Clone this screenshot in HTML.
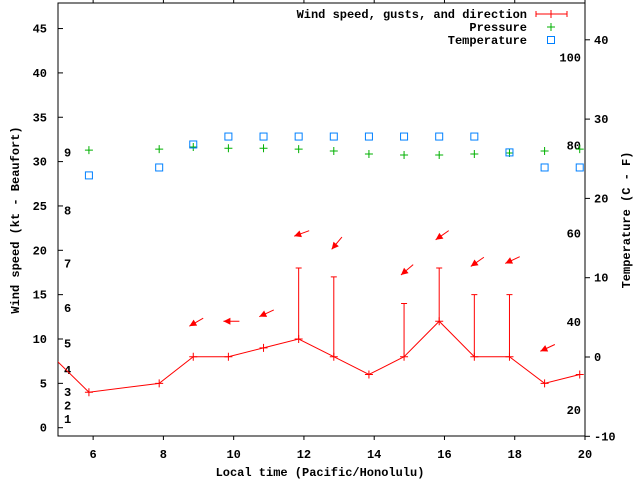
<!DOCTYPE html>
<html><head><meta charset="utf-8"><style>
html,body{margin:0;padding:0;background:#fff}
svg{display:block}
text{font-family:"Liberation Mono",monospace;font-weight:bold;font-size:12px;fill:#000}
</style></head><body>
<svg id="c" width="640" height="480" xmlns="http://www.w3.org/2000/svg"></svg>
<script>
const times=[4.85,5.88,7.88,8.85,9.85,10.85,11.85,12.85,13.85,14.85,15.85,16.85,17.85,18.85,19.85];
const windSpeed=[8,4,5,8,8,9,10,8,6,8,12,8,8,5,6];
const gustTimes=[11.85,12.85,14.85,15.85,16.85,17.85];
const gustSpeed=[18,17,14,18,15,15];
const gustBase=[10,8,8,12,8,8];
const pressTimes=[5.88,7.88,8.85,9.85,10.85,11.85,12.85,13.85,14.85,15.85,16.85,17.85,18.85,19.85];
const pressure=[31.3,31.4,31.65,31.5,31.5,31.4,31.2,30.85,30.75,30.75,30.85,30.97,31.2,31.4];
const tempTimes=[5.88,7.88,8.85,9.85,10.85,11.85,12.85,13.85,14.85,15.85,16.85,17.85,18.85,19.85];
const tempC=[22.9,23.9,26.8,27.8,27.8,27.8,27.8,27.8,27.8,27.8,27.8,25.8,23.9,23.9];
const arrowTimes=[8.85,9.85,10.85,11.85,12.85,14.85,15.85,16.85,17.85,18.85];
const arrowLevel=[11.9,12.0,12.9,21.9,20.8,17.8,21.7,18.7,18.9,9.0];
const arrowDir=[60,90,65,70,40,50,55,55,65,65];
const xTicks=[6,8,10,12,14,16,18,20];
const yTicks=[0,5,10,15,20,25,30,35,40,45];
const cTicks=[-10,0,10,20,30,40];
const fTicks=[20,40,60,80,100];
const bftTicks=[1,2,3,4,5,6,7,8,9];
const bftPos=[1,2.5,4,6.5,9.5,13.5,18.5,24.5,31];

const L=58,R=585,T=3,B=436;
const X=t=>L+(t-5)*(R-L)/15;
const Y=v=>427.7-8.87*v;
const YC=c=>357-7.93*c;
const YF=f=>YC((f-32)*5/9);
const svg=document.getElementById('c');
const NS='http://www.w3.org/2000/svg';
function mk(tag,a,name,par){const e=document.createElementNS(NS,tag);for(const k in a)e.setAttribute(k,a[k]);


(par||svg).appendChild(e);return e;}
function txt(s,x,y,anchor,name,extra){const e=mk('text',Object.assign({x:x,y:y,'text-anchor':anchor||'start'},extra||{}),name);e.textContent=s;return e;}

// frame
mk('rect',{x:L,y:T,width:R-L,height:B-T,fill:'none',stroke:'#000','stroke-width':1},'plot-frame');
// x ticks
xTicks.forEach(t=>{const x=X(t);
 mk('line',{x1:x,y1:B,x2:x,y2:B+4,stroke:'#000'},'x-tick');
 mk('line',{x1:x,y1:T,x2:x,y2:T-4,stroke:'#000'},'x-tick-top');
 txt(String(t),x,458,'middle','x-tick-label');});
yTicks.forEach(v=>{const y=Y(v);
 mk('line',{x1:L,y1:y,x2:L+5,y2:y,stroke:'#000'},'y-tick');
 txt(String(v),47,y+4,'end','y-tick-label');});
cTicks.forEach(v=>{const y=YC(v);
 mk('line',{x1:R,y1:y,x2:R+5,y2:y,stroke:'#000'},'y2-tick');
 txt(String(v),594,y+4,'start','y2-tick-label');});
fTicks.forEach(v=>{txt(String(v),581,YF(v)+4,'end','fahrenheit-label');});
bftTicks.forEach((b,i)=>{txt(String(b),64,Y(bftPos[i])+4,'start','beaufort-label');});

txt('Local time (Pacific/Honolulu)',320,476,'middle','x-axis-title');
txt('Wind speed (kt - Beaufort)',0,0,'middle','y-axis-title',{transform:'translate(19,220) rotate(-90)'});
txt('Temperature (C - F)',0,0,'middle','y2-axis-title',{transform:'translate(630,220) rotate(-90)'});

const red='#ff0000',green='#00b000',blue='#0080ff';
// wind line
let d='';times.forEach((t,i)=>{d+=(i?'L':'M')+X(t)+' '+Y(windSpeed[i]);});
const clip=mk('clipPath',{id:'pc'},'plot-clip');mk('rect',{x:L,y:T,width:R-L,height:B-T},'clip-rect',clip);
mk('path',{d:d,fill:'none',stroke:red,'stroke-width':1,'clip-path':'url(#pc)'},'wind-line');
times.forEach((t,i)=>{if(t<5)return;const x=X(t),y=Y(windSpeed[i]);
 mk('path',{d:`M${x-4} ${y}H${x+4}M${x} ${y-4}V${y+4}`,stroke:red,fill:'none'},'wind-point');});
gustTimes.forEach((t,i)=>{const x=X(t);
 mk('path',{d:`M${x} ${Y(gustBase[i])}V${Y(gustSpeed[i])}M${x-3} ${Y(gustSpeed[i])}H${x+3}`,stroke:red,fill:'none'},'gust-bar');});
// arrows
arrowTimes.forEach((t,i)=>{const cx=X(t)+3,cy=Y(arrowLevel[i]);const a=arrowDir[i]*Math.PI/180;
 const ux=Math.sin(a),uy=-Math.cos(a);const tx=cx+ux*8,ty=cy+uy*8,hx=cx-ux*8,hy=cy-uy*8;
 const px=-uy,py=ux;
 mk('line',{x1:tx,y1:ty,x2:hx,y2:hy,stroke:red},'wind-direction-arrow');
 mk('polygon',{points:`${hx},${hy} ${hx+ux*7+px*3.5},${hy+uy*7+py*3.5} ${hx+ux*7-px*3.5},${hy+uy*7-py*3.5}`,fill:red},'wind-arrow-head');});
// pressure
pressTimes.forEach((t,i)=>{const x=X(t),y=Y(pressure[i]);
 mk('path',{d:`M${x-4} ${y}H${x+4}M${x} ${y-4}V${y+4}`,stroke:green,fill:'none'},'pressure-point');});
// temperature
tempTimes.forEach((t,i)=>{const x=X(t),y=YC(tempC[i]);
 mk('rect',{x:x-3.5,y:y-3.5,width:7,height:7,fill:'none',stroke:blue},'temperature-point');});
// legend
txt('Wind speed, gusts, and direction',527,18,'end','legend-wind-label');
mk('path',{d:'M536 14H567M536 11V17M567 11V17M551 10V18',stroke:red,fill:'none'},'legend-wind-sample');
txt('Pressure',527,31,'end','legend-pressure-label');
mk('path',{d:'M547 27H555M551 23V31',stroke:green,fill:'none'},'legend-pressure-sample');
txt('Temperature',527,44,'end','legend-temperature-label');
mk('rect',{x:547.5,y:36.5,width:7,height:7,fill:'none',stroke:blue},'legend-temperature-sample');
</script>
</body></html>
